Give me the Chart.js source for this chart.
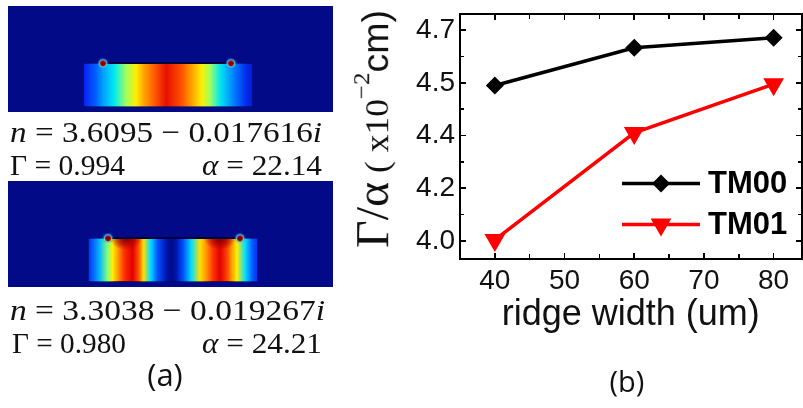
<!DOCTYPE html>
<html><head><meta charset="utf-8">
<script src="https://cdn.jsdelivr.net/npm/chart.js@4.4.1/dist/chart.umd.min.js"></script>
<style>
html,body{margin:0;padding:0;background:#fff;}
#c{position:absolute;left:0;top:0;}
.panel{position:absolute;left:8px;width:325px;height:106px;background:#020a88;overflow:hidden;}
.ridge{position:absolute;box-sizing:border-box;border:1px solid rgba(0,0,60,0.55);}
.topline{position:absolute;height:2px;background:#00003a;}
.hot{position:absolute;width:12px;height:12px;border-radius:50%;
 background:radial-gradient(circle at 50% 62%, #5a0000 0, #900000 1.8px, #c02000 2.6px, rgba(90,230,255,0.75) 3.6px, rgba(0,140,255,0.45) 4.8px, rgba(0,30,220,0) 6px);}
.txt{position:absolute;white-space:nowrap;font-family:"Liberation Serif","Times New Roman",serif;font-size:30px;line-height:30px;color:#111;transform-origin:0 50%;}
.lab{position:absolute;text-align:center;font-family:"Open Sans",sans-serif;line-height:1;color:#111;}
#ytitle{position:absolute;white-space:nowrap;font-family:"Liberation Serif",serif;font-size:46px;line-height:46px;color:#111;transform-origin:50% 50%;}
#ytitle span{line-height:1;}
.mk{position:absolute;background:#000;z-index:20;}
</style></head>
<body>
<canvas id="c" width="803" height="408"></canvas>
<div class="panel" style="top:6px;">
  <div class="ridge" style="left:74.7px;top:56.7px;width:170px;height:44px;
    background:linear-gradient(to right,#0a20f0 0%,#0060ff 7%,#00a8ff 12%,#00e8f0 18%,#a0ff60 25%,#ffee00 31%,#ffa000 36%,#ff5a00 42%,#e81000 49%,#ff5000 58%,#ffa000 64%,#ffee00 70%,#a0ff60 75%,#00e8f0 81%,#0080ff 89%,#0030f0 96%,#0a1ad8 100%);"></div>
  <div class="topline" style="left:95.3px;top:55.7px;width:127.7px;"></div>
  <div class="hot" style="left:89.3px;top:49.7px;"></div>
  <div class="hot" style="left:217px;top:49.7px;"></div>
</div>
<div class="panel" style="top:181px;">
  <div class="ridge" style="left:79.7px;top:57.3px;width:170.6px;height:44px;
    background:radial-gradient(ellipse 16px 11px at 22% 0%, rgba(120,0,0,0.95) 0%, rgba(170,0,0,0.6) 55%, rgba(220,0,0,0) 100%),
      radial-gradient(ellipse 16px 11px at 78% 0%, rgba(120,0,0,0.95) 0%, rgba(170,0,0,0.6) 55%, rgba(220,0,0,0) 100%),
      linear-gradient(to right,#0a30ff 0%,#00b0ff 6%,#80ff80 11%,#ffee00 14%,#ffa000 17%,#ff3000 21%,#e00000 26%,#ff5000 29.5%,#ffe000 32.5%,#00e0ff 36.5%,#0050ff 41%,#0014b0 46%,#000c88 49%,#0014b0 52%,#0050ff 56%,#00e0ff 61%,#ffe000 66%,#ff9000 70%,#ff3000 74%,#e00000 78%,#ff4000 82%,#ffa000 85%,#ffee00 88%,#00e0ff 93%,#0060ff 97%,#0a30f0 100%);"></div>
  <div class="topline" style="left:100px;top:56.3px;width:132px;"></div>
  <div class="hot" style="left:94px;top:50.3px;"></div>
  <div class="hot" style="left:226px;top:50.3px;"></div>
</div>

<div class="txt" id="t1" style="left:10px;top:117px;"><i>n</i> = 3.6095 − 0.017616<i>i</i></div>
<div class="txt" id="t2" style="left:10px;top:150px;">Γ = 0.994</div>
<div class="txt" id="t3" style="left:202px;top:150px;"><i>α</i> = 22.14</div>
<div class="txt" id="t4" style="left:10px;top:295px;"><i>n</i> = 3.3038 − 0.019267<i>i</i></div>
<div class="txt" id="t5" style="left:12px;top:328px;">Γ = 0.980</div>
<div class="txt" id="t6" style="left:202px;top:328px;"><i>α</i> = 24.21</div>
<div class="lab" style="left:0;width:330px;top:359px;font-size:31px;">(a)</div>
<div class="lab" style="left:527px;width:200px;top:366px;font-size:29px;">(b)</div>

<div id="ytitle"><span>Γ/α</span><span style="font-size:34px;"> ( x10</span><span style="font-size:24px;position:relative;top:-19px;">−2</span><span style="font-family:'Liberation Sans',Arial,sans-serif;font-size:36px;">cm)</span></div>

<script>
// ---- data ----
const ridgeWidths = [40, 60, 80];
const tm00 = [4.59, 4.733, 4.771];
const tm01 = [4.004, 4.41, 4.595];
const seriesNames = ['TM00', 'TM01'];
const xTickValues = [40, 50, 60, 70, 80];
const xTickMarks = [40, 45, 50, 55, 60, 65, 70, 75, 80];
const yTickValues = [4.0, 4.2, 4.4, 4.6, 4.8];
const yTickLabels = ['4.0', '4.2', '4.4', '4.5', '4.7'];
const yTickMarks = [4.0, 4.1, 4.2, 4.3, 4.4, 4.5, 4.6, 4.7, 4.8];

function fit(id, w){ const el=document.getElementById(id); const nw=el.getBoundingClientRect().width; el.style.transform='scaleX('+(w/nw)+')'; }
fit('t1', 312); fit('t2', 115); fit('t3', 120);
fit('t4', 315); fit('t5', 114); fit('t6', 120);
(function(){
  const el=document.getElementById('ytitle');
  const r=el.getBoundingClientRect();
  const s=238/r.width;
  const cx=373, cy=129;
  el.style.left=(cx - r.width/2)+'px';
  el.style.top=(cy - r.height/2)+'px';
  el.style.transform='rotate(-90deg) scaleX('+s+')';
})();

const SANS = "'Liberation Sans', Arial, sans-serif";
const XMIN = 35, XMAX = 84, YMIN = 3.933, YMAX = 4.861;

function isMajorY(v){ return yTickValues.some(t => Math.abs(t - v) < 1e-6); }
function yLabel(v){
  const i = yTickValues.findIndex(t => Math.abs(t - v) < 1e-6);
  return i >= 0 ? yTickLabels[i] : '';
}

const legendPlugin = {
  id:'inlegend',
  afterDatasetsDraw(chart){
    const ctx=chart.ctx;
    const rows=[183.5, 224.5];
    chart.data.datasets.forEach((ds,i)=>{
      const y=rows[i];
      ctx.save();
      ctx.strokeStyle=ds.borderColor; ctx.lineWidth=ds.borderWidth;
      ctx.beginPath(); ctx.moveTo(622,y); ctx.lineTo(700,y); ctx.stroke();
      ctx.fillStyle=ds.pointBackgroundColor;
      ctx.strokeStyle=ds.pointBackgroundColor;
      Chart.helpers.drawPoint(ctx, {pointStyle:ds.pointStyle, rotation:ds.pointRotation||0, radius:ds.pointRadius, borderWidth:0}, 661, y);
      ctx.fillStyle='#000';
      ctx.font="bold 31px "+SANS;
      ctx.textBaseline='middle'; ctx.textAlign='left';
      ctx.fillText(ds.label, 708, y+0.5);
      ctx.restore();
    });
  }
};

const chart = new Chart(document.getElementById('c'), {
  type:'line',
  data:{ datasets:[
    { label:seriesNames[0], data:ridgeWidths.map((x,i)=>({x, y:tm00[i]})),
      borderColor:'#000', backgroundColor:'#000', borderWidth:3.5,
      pointStyle:'rectRot', pointRadius:9, pointBorderWidth:0, pointBackgroundColor:'#000', tension:0 },
    { label:seriesNames[1], data:ridgeWidths.map((x,i)=>({x, y:tm01[i]})),
      borderColor:'#ff0000', backgroundColor:'#ff0000', borderWidth:3.5,
      pointStyle:'triangle', pointRotation:180, pointRadius:12, pointBorderWidth:0, pointBackgroundColor:'#ff0000', tension:0 }
  ]},
  options:{
    responsive:false, animation:false, devicePixelRatio:1,
    layout:{autoPadding:false, padding:{left:400, right:1.5, top:14, bottom:0}},
    plugins:{legend:{display:false}, tooltip:{enabled:false}},
    scales:{
      x:{ type:'linear', position:'bottom', min:XMIN, max:XMAX,
        afterFit(s){ s.height=149.3; s.paddingLeft=0; s.paddingRight=0; },
        afterBuildTicks(s){ s.ticks=xTickValues.map(v=>({value:v})); },
        grid:{display:false, drawTicks:false}, border:{display:false},
        ticks:{padding:6, color:'#111', font:{family:SANS, size:28}, maxRotation:0, autoSkip:false, callback:(v)=>String(v)},
        title:{display:true, text:'ridge width (um)', color:'#111', font:{family:SANS, size:36}, padding:{top:0, bottom:71}} },
      y:{ type:'linear', position:'left', min:YMIN, max:YMAX,
        afterFit(s){ s.width=60; s.paddingTop=0; s.paddingBottom=0; },
        afterBuildTicks(s){ s.ticks=yTickValues.map(v=>({value:v})); },
        grid:{display:false, drawTicks:false}, border:{display:false},
        ticks:{padding:5, color:'#111', font:{family:SANS, size:28}, autoSkip:false, callback:(v)=>yLabel(v)} }
    }
  },
  plugins:[legendPlugin]
});

// frame and inward tick marks, placed from the chart's own scales
(function(){
  const a=chart.chartArea, xs=chart.scales.x, ys=chart.scales.y;
  function mk(l,t,w,h){ const d=document.createElement('div'); d.className='mk';
    d.style.left=l+'px'; d.style.top=t+'px'; d.style.width=w+'px'; d.style.height=h+'px'; document.body.appendChild(d); }
  const W=a.right-a.left, H=a.bottom-a.top;
  mk(a.left-1, a.top-1, W+2, 2);
  mk(a.left-1, a.bottom-1, W+2, 2);
  mk(a.left-1, a.top-1, 2, H+2);
  mk(a.right-1, a.top-1, 2, H+2);
  xTickMarks.forEach(v=>{
    const px=xs.getPixelForValue(v), len=(v%10===0)?6:5;
    mk(px-0.8, a.bottom-len, 1.6, len);
    mk(px-0.8, a.top, 1.6, len);
  });
  yTickMarks.forEach(v=>{
    const py=ys.getPixelForValue(v);
    if (py<a.top || py>a.bottom) return;
    const len=isMajorY(v)?6:4;
    mk(a.left, py-0.8, len, 1.6);
    mk(a.right-len, py-0.8, len, 1.6);
  });
})();
</script>
</body></html>
